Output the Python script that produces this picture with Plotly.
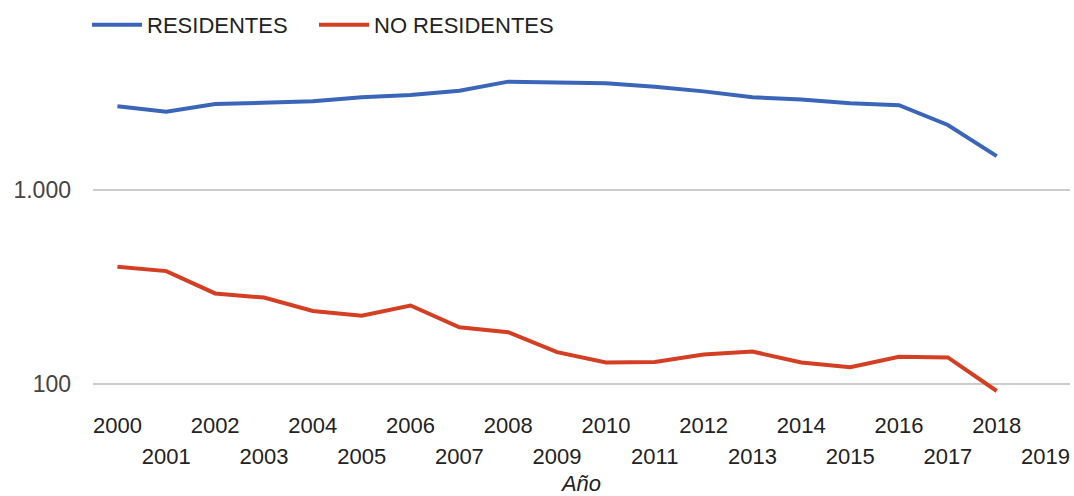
import plotly.graph_objects as go

years = list(range(2000, 2020))
data_years = list(range(2000, 2019))
residentes = [2700, 2535, 2775, 2810, 2865, 3005, 3090, 3250, 3620,
              3580, 3550, 3410, 3225, 3005, 2925, 2800, 2735, 2165, 1495]
no_residentes = [402, 382, 293, 279, 238, 225, 254, 196, 185,
                 146, 129, 130, 142, 147, 129, 122, 138, 137, 92]
y_tick_vals = [100, 1000]
y_tick_text = ["100", "1.000"]
even_years = [y for y in years if y % 2 == 0]
odd_years = [y for y in years if y % 2 == 1]

FONT = "Liberation Sans, Arial, sans-serif"
BLUE = "#3b65b9"
RED = "#d43f24"

fig = go.Figure()
fig.add_trace(go.Scatter(x=data_years, y=residentes, mode="lines", name="RESIDENTES",
                         line=dict(color=BLUE, width=4), legend="legend"))
fig.add_trace(go.Scatter(x=data_years, y=no_residentes, mode="lines", name="NO RESIDENTES",
                         line=dict(color=RED, width=4), legend="legend2"))
# invisible helper trace so the second (odd-year) label row is drawn
fig.add_trace(go.Scatter(x=data_years, y=residentes, mode="lines", xaxis="x2",
                         showlegend=False, hoverinfo="skip", opacity=0,
                         line=dict(width=0)))

legend_common = dict(orientation="h", xanchor="left", y=1.026, yanchor="bottom",
                     font=dict(size=22, color="#222222"), bgcolor="rgba(0,0,0,0)",
                     itemwidth=50)

xr = [1999.5, 2019.5]
fig.update_layout(
    width=1074, height=496,
    margin=dict(l=93, r=4, t=55, b=96, autoexpand=False),
    paper_bgcolor="white", plot_bgcolor="white",
    font=dict(family=FONT, size=22, color="#222222"),
    showlegend=True,
    legend=dict(x=-0.0061, **legend_common),
    legend2=dict(x=0.2262, **legend_common),
    xaxis=dict(range=xr, tickmode="array", tickvals=even_years, automargin=False,
               ticktext=[str(y) for y in even_years], showgrid=False, zeroline=False,
               showline=False, ticks="", ticklabelstandoff=10,
               tickfont=dict(size=22, color="#222222"),
               title=dict(text="<i>Año</i>", font=dict(size=22, color="#222222"), standoff=39)),
    xaxis2=dict(range=xr, overlaying="x", side="bottom", anchor="y", tickmode="array",
                tickvals=odd_years, automargin=False,
                ticktext=[str(y) for y in odd_years], showgrid=False, zeroline=False,
                showline=False, ticks="", ticklabelstandoff=41,
                tickfont=dict(size=22, color="#222222")),
    yaxis=dict(type="log", range=[1.9175, 3.696], tickmode="array", tickvals=y_tick_vals,
               ticktext=y_tick_text, showgrid=True, gridcolor="#cccccc", gridwidth=1.5,
               zeroline=False, showline=False, ticks="", ticklabelstandoff=21,
               automargin=False, tickfont=dict(size=23, color="#444444")),
)
fig.write_html("out.html", config={"displayModeBar": False},
               post_script="document.body.style.margin='0';")
